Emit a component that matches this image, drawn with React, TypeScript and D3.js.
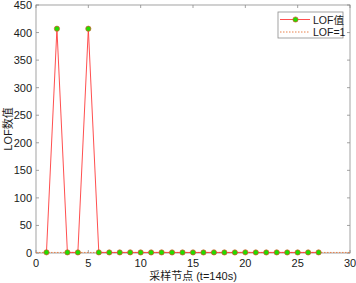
import * as React from "react";
import * as d3 from "d3";

// sample index and LOF value
const nodes = [1, 2, 3, 4, 5, 6, 7, 8, 9, 10, 11, 12, 13, 14, 15, 16, 17, 18, 19, 20, 21, 22, 23, 24, 25, 26, 27];
const lofValues = [1.2, 407, 1.1, 1.0, 407, 1.1, 1.0, 1.0, 1.1, 1.0, 1.0, 1.1, 1.0, 1.0, 1.0, 1.0, 1.1, 1.0, 1.0, 1.2, 1.0, 1.0, 1.1, 1.0, 1.0, 1.0, 1.1];
const thresholdX = [0, 30];
const thresholdY = [1, 1];
const xTicks = [0, 5, 10, 15, 20, 25, 30];
const yTicks = [0, 50, 100, 150, 200, 250, 300, 350, 400, 450];
const legendLabels = ["LOF值", "LOF=1"];

export default function App() {
    const width = 356;
    const height = 283;
    const margin = { left: 36, right: 6, top: 5, bottom: 30 };

    const x = d3.scaleLinear().domain([0, 30]).range([margin.left, width - margin.right]);
    const y = d3.scaleLinear().domain([0, 450]).range([height - margin.bottom, margin.top]);

    const lineGen = d3.line<number>().x((d, i) => x(nodes[i])).y(d => y(d));
    const thresholdPath = d3.line<number>().x((d, i) => x(thresholdX[i])).y(d => y(d))(thresholdY);

    const axisColor = "#8c8c8c";
    const font = "'Liberation Sans', Arial, 'Noto Sans CJK SC', sans-serif";
    const tickLen = 3;
    const lineColor = "#ff3b3b";
    const edgeColor = "#e05030";
    const fillColor = "#22dd00";

    const x0 = x.range()[0], x1 = x.range()[1];
    const y0 = y.range()[0], y1 = y.range()[1];

    const legX = 278, legY = 12, legW = 65, legH = 26;

    return (
        <svg width={width} height={height} style={{ position: "absolute", left: 0, top: 0, background: "#fff" }} fontFamily={font}>
            <rect x={0} y={0} width={width} height={height} fill="#fff" />
            {/* box */}
            <rect x={x0} y={y1} width={x1 - x0} height={y0 - y1} fill="none" stroke={axisColor} strokeWidth={0.8} />
            {/* x ticks */}
            {xTicks.map(t => (
                <g key={"x" + t}>
                    <line x1={x(t)} x2={x(t)} y1={y0} y2={y0 - tickLen} stroke={axisColor} strokeWidth={0.8} />
                    <line x1={x(t)} x2={x(t)} y1={y1} y2={y1 + tickLen} stroke={axisColor} strokeWidth={0.8} />
                    <text x={x(t)} y={y0 + 13.5} textAnchor="middle" fontSize={11} fill="#1a1a1a">{t}</text>
                </g>
            ))}
            {/* y ticks */}
            {yTicks.map(t => (
                <g key={"y" + t}>
                    <line x1={x0} x2={x0 + tickLen} y1={y(t)} y2={y(t)} stroke={axisColor} strokeWidth={0.8} />
                    <line x1={x1} x2={x1 - tickLen} y1={y(t)} y2={y(t)} stroke={axisColor} strokeWidth={0.8} />
                    <text x={x0 - 4} y={y(t) + 4} textAnchor="end" fontSize={11} fill="#1a1a1a">{t}</text>
                </g>
            ))}
            {/* threshold */}
            <path d={thresholdPath || ""} fill="none" stroke="#e8804a" strokeWidth={1} strokeDasharray="1.5,1.5" />
            {/* LOF line */}
            <path d={lineGen(lofValues) || ""} fill="none" stroke={lineColor} strokeWidth={0.9} />
            {lofValues.map((v, i) => (
                <circle key={i} cx={x(nodes[i])} cy={y(v)} r={2.6} fill={fillColor} stroke={edgeColor} strokeWidth={0.7} />
            ))}
            {/* axis labels */}
            <text x={(x0 + x1) / 2} y={280} textAnchor="middle" fontSize={11} fill="#1a1a1a">采样节点 (t=140s)</text>
            <text transform={`translate(12, ${(y0 + y1) / 2}) rotate(-90)`} textAnchor="middle" fontSize={11} fill="#1a1a1a">LOF数值</text>
            {/* legend */}
            <rect x={legX} y={legY} width={legW} height={legH} fill="#fff" stroke={axisColor} strokeWidth={0.8} />
            <line x1={280} x2={310} y1={19.5} y2={19.5} stroke={lineColor} strokeWidth={0.9} />
            <circle cx={295.5} cy={19.5} r={2.6} fill={fillColor} stroke={edgeColor} strokeWidth={0.7} />
            <text x={313} y={23.5} fontSize={10.5} fill="#1a1a1a">{legendLabels[0]}</text>
            <line x1={280} x2={310} y1={32} y2={32} stroke="#e8804a" strokeWidth={1} strokeDasharray="1.5,1.5" />
            <text x={313} y={36} fontSize={10.5} fill="#1a1a1a">{legendLabels[1]}</text>
        </svg>
    );
}
